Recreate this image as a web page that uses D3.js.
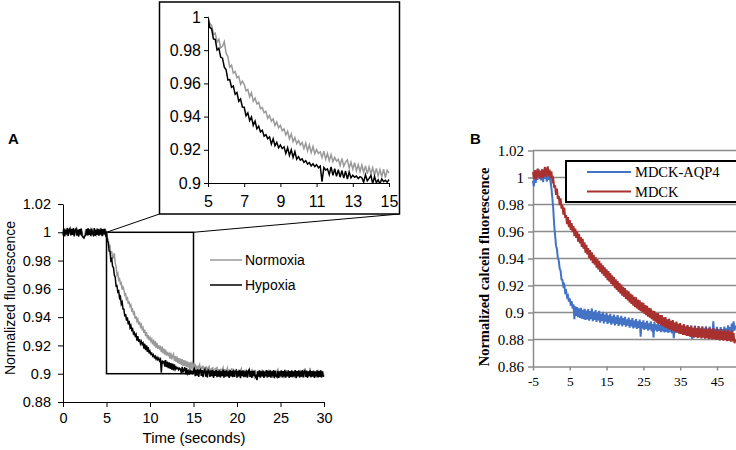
<!DOCTYPE html>
<html>
<head>
<meta charset="utf-8">
<script src="https://cdn.jsdelivr.net/npm/d3@7"></script>
<style>
  body { margin: 0; background: #fff; }
  svg { display: block; }
</style>
</head>
<body>
<svg id="chart"></svg>
<script>
// Panel A: normalized fluorescence, sampled every 0.1 s from 0 to 30 s
const tStepA = 0.1;
const normoxia = [
  1.0021, 0.9978, 1.0030, 0.9985, 1.0012, 0.9972, 1.0026, 0.9991, 1.0018, 0.9976,
  1.0027, 0.9983, 1.0009, 0.9969, 1.0024, 0.9995, 1.0032, 0.9980, 1.0015, 0.9988,
  1.0023, 0.9974, 1.0006, 0.9962, 0.9958, 0.9979, 1.0019, 0.9984, 1.0028, 0.9977,
  1.0017, 0.9981, 1.0033, 0.9986, 1.0011, 0.9970, 1.0025, 0.9993, 0.9979, 1.0029,
  0.9984, 1.0022, 0.9973, 1.0031, 0.9989, 1.0016, 0.9975, 1.0027, 0.9982, 1.0014,
  1.0004, 0.9961, 0.9949, 0.9898, 0.9903, 0.9849, 0.9866, 0.9815, 0.9824, 0.9852,
  0.9782, 0.9761, 0.9698, 0.9710, 0.9662, 0.9671, 0.9634, 0.9642, 0.9595, 0.9613,
  0.9594, 0.9556, 0.9563, 0.9519, 0.9544, 0.9493, 0.9512, 0.9476, 0.9486, 0.9447,
  0.9455, 0.9423, 0.9432, 0.9389, 0.9407, 0.9372, 0.9386, 0.9347, 0.9368, 0.9333,
  0.9347, 0.9314, 0.9326, 0.9289, 0.9312, 0.9266, 0.9295, 0.9249, 0.9273, 0.9237,
  0.9255, 0.9229, 0.9244, 0.9207, 0.9241, 0.9194, 0.9230, 0.9183, 0.9219, 0.9176,
  0.9201, 0.9178, 0.9188, 0.9153, 0.9192, 0.9144, 0.9178, 0.9135, 0.9171, 0.9128,
  0.9154, 0.9131, 0.9143, 0.9106, 0.9148, 0.9101, 0.9126, 0.9139, 0.9090, 0.9125,
  0.9083, 0.9122, 0.9074, 0.9111, 0.9069, 0.9107, 0.9063, 0.9103, 0.9056, 0.9097,
  0.9054, 0.9092, 0.9047, 0.9088, 0.9043, 0.9081, 0.9037, 0.9084, 0.9033, 0.9076,
  0.9060, 0.9028, 0.9069, 0.9021, 0.9058, 0.9016, 0.9052, 0.9065, 0.9012, 0.9047,
  0.9040, 0.9056, 0.9006, 0.9048, 0.9011, 0.9053, 0.9003, 0.9039, 0.9050, 0.8999,
  0.9037, 0.8996, 0.9046, 0.9005, 0.8992, 0.9041, 0.9001, 0.9048, 0.8989, 0.9032,
  0.8995, 0.9036, 0.8984, 0.9029, 0.9043, 0.8990, 0.9032, 0.8982, 0.9025, 0.9040,
  0.8988, 0.9031, 0.8980, 0.9023, 0.9038, 0.8985, 0.9027, 0.9019, 0.8978, 0.9034,
  0.9017, 0.8976, 0.9030, 0.8983, 0.9025, 0.9036, 0.8979, 0.9021, 0.8986, 0.9028,
  0.8974, 0.9023, 0.9015, 0.8981, 0.9032, 0.8977, 0.9019, 0.9026, 0.8972, 0.9022,
  0.8984, 0.9028, 0.8975, 0.9017, 0.8980, 0.9024, 0.8969, 0.9020, 0.8986, 0.9029,
  0.8978, 0.9018, 0.8981, 0.9025, 0.8973, 0.9014, 0.9022, 0.8976, 0.9027, 0.8983,
  0.9021, 0.8970, 0.9016, 0.8982, 0.9024, 0.8975, 0.9019, 0.9030, 0.8979, 0.9013,
  0.8974, 0.9023, 0.8983, 0.9017, 0.8968, 0.9022, 0.8980, 0.9026, 0.8977, 0.9015,
  0.8982, 0.9021, 0.8973, 0.9025, 0.8985, 0.9016, 0.8971, 0.9023, 0.8981, 0.9020,
  0.8976, 0.9018, 0.8984, 0.9027, 0.8975, 0.9014, 0.9022, 0.8972, 0.9038, 0.8983,
  0.9016, 0.8977, 0.9021, 0.8982, 0.9042, 0.8974, 0.9017, 0.8985, 0.9024, 0.8979,
  0.9019, 0.8973, 0.9014, 0.9022, 0.8980, 0.9017, 0.8975, 0.9023, 0.8984, 0.9016,
  0.8982
];
const hypoxia = [
  0.9978, 1.0024, 0.9970, 1.0019, 0.9985, 1.0031, 0.9975, 1.0016, 1.0027, 0.9979,
  1.0022, 0.9982, 1.0029, 0.9972, 1.0015, 1.0025, 0.9977, 1.0019, 0.9969, 1.0023,
  0.9984, 1.0027, 0.9974, 0.9966, 0.9960, 0.9973, 0.9980, 1.0022, 0.9978, 1.0028,
  0.9982, 1.0021, 0.9973, 1.0026, 0.9988, 0.9979, 1.0030, 0.9974, 1.0018, 0.9981,
  1.0024, 0.9977, 1.0019, 0.9983, 1.0027, 0.9972, 1.0022, 0.9985, 1.0025, 0.9980,
  0.9994, 0.9937, 0.9929, 0.9868, 0.9865, 0.9801, 0.9812, 0.9758, 0.9752, 0.9698,
  0.9682, 0.9620, 0.9623, 0.9577, 0.9584, 0.9534, 0.9545, 0.9492, 0.9506, 0.9457,
  0.9456, 0.9405, 0.9422, 0.9376, 0.9398, 0.9348, 0.9373, 0.9327, 0.9342, 0.9308,
  0.9317, 0.9282, 0.9291, 0.9267, 0.9278, 0.9234, 0.9266, 0.9225, 0.9245, 0.9212,
  0.9229, 0.9208, 0.9218, 0.9178, 0.9212, 0.9166, 0.9200, 0.9154, 0.9189, 0.9143,
  0.9159, 0.9138, 0.9145, 0.9125, 0.9134, 0.9114, 0.9123, 0.9103, 0.9116, 0.9099,
  0.9110, 0.9091, 0.9102, 0.9008, 0.9093, 0.9078, 0.9085, 0.9050, 0.9097, 0.9046,
  0.9086, 0.9040, 0.9080, 0.9035, 0.9075, 0.9029, 0.9072, 0.9024, 0.9066, 0.9031,
  0.9047, 0.9035, 0.9042, 0.9027, 0.9038, 0.9032, 0.9005, 0.9049, 0.9013, 0.9028,
  0.9045, 0.8996, 0.9040, 0.9002, 0.9019, 0.8994, 0.9025, 0.9008, 0.9017, 0.9004,
  0.9021, 0.9034, 0.8982, 0.9027, 0.8987, 0.9031, 0.8978, 0.9023, 0.9029, 0.8984,
  0.9026, 0.8975, 0.9020, 0.9030, 0.8980, 0.9022, 0.8973, 0.9025, 0.9017, 0.8977,
  0.9023, 0.8982, 0.9028, 0.8971, 0.9019, 0.8984, 0.9026, 0.8976, 0.9021, 0.8980,
  0.9024, 0.8974, 0.9017, 0.8983, 0.9029, 0.8972, 0.9020, 0.8979, 0.9023, 0.8981,
  0.9016, 0.8970, 0.9025, 0.8982, 0.9019, 0.8975, 0.9027, 0.8978, 0.9014, 0.9022,
  0.8973, 0.9018, 0.8981, 0.9026, 0.8969, 0.9020, 0.8984, 0.9024, 0.8976, 0.9017,
  0.8980, 0.9023, 0.8972, 0.9015, 0.9028, 0.8978, 0.9019, 0.8971, 0.9022, 0.8983,
  0.9020, 0.8975, 0.8985, 0.8955, 0.9017, 0.8979, 0.9024, 0.8973, 0.9016, 0.8981,
  0.9022, 0.8970, 0.9015, 0.8982, 0.9026, 0.8974, 0.9018, 0.8979, 0.9023, 0.8972,
  0.9017, 0.8981, 0.9025, 0.8968, 0.9020, 0.8984, 0.8976, 0.9021, 0.8971, 0.9016,
  0.8982, 0.9024, 0.8974, 0.9018, 0.8979, 0.9027, 0.8972, 0.9015, 0.8983, 0.9023,
  0.8970, 0.9019, 0.8978, 0.9022, 0.8975, 0.9016, 0.8981, 0.9026, 0.8969, 0.9018,
  0.8983, 0.9023, 0.8973, 0.9017, 0.8980, 0.9025, 0.8974, 0.9014, 0.9020, 0.8977,
  0.9022, 0.8971, 0.9016, 0.8982, 0.9024, 0.8975, 0.9019, 0.8979, 0.9021, 0.8970,
  0.9015, 0.8981, 0.9023, 0.8973, 0.9018, 0.8978, 0.9024, 0.8974, 0.9017, 0.8982,
  0.8986
];
const seriesA = ["Normoxia", "Hypoxia"];
const yTicksA = [0.88, 0.9, 0.92, 0.94, 0.96, 0.98, 1, 1.02];
const xTicksA = [0, 5, 10, 15, 20, 25, 30];
const yTicksInset = [0.9, 0.92, 0.94, 0.96, 0.98, 1];
const xTicksInset = [5, 7, 9, 11, 13, 15];

// Panel B: normalized calcein fluorescence, sampled every 0.25 s from -5 to 50
const tStartB = -5, tStepB = 0.25;
const mdckAqp4 = [
  0.9975, 0.9935, 1.0025, 0.9960, 1.0048, 0.9982, 1.0062, 0.9995, 1.0050, 0.9978,
  1.0035, 0.9965, 1.0045, 0.9990, 1.0040, 0.9970, 1.0030, 0.9982, 1.0022, 0.9968,
  0.9925, 0.9850, 0.9770, 0.9650, 0.9575, 0.9495, 0.9470, 0.9405, 0.9385, 0.9325,
  0.9310, 0.9245, 0.9240, 0.9195, 0.9205, 0.9150, 0.9160, 0.9115, 0.9125, 0.9080,
  0.9105, 0.9050, 0.9085, 0.9030, 0.9060, 0.8950, 0.9045, 0.8975, 0.9040, 0.8965,
  0.9030, 0.8960, 0.9035, 0.8955, 0.9020, 0.8950, 0.9028, 0.8945, 0.9015, 0.8948,
  0.9025, 0.8940, 0.9010, 0.8950, 0.9030, 0.8935, 0.9005, 0.8945, 0.9018, 0.8930,
  0.8998, 0.8942, 0.9012, 0.8925, 0.8990, 0.8938, 0.9005, 0.8920, 0.8985, 0.8932,
  0.8995, 0.8915, 0.8978, 0.8925, 0.8990, 0.8910, 0.8972, 0.8920, 0.8985, 0.8905,
  0.8968, 0.8915, 0.8980, 0.8900, 0.8962, 0.8912, 0.8975, 0.8898, 0.8958, 0.8908,
  0.8968, 0.8895, 0.8950, 0.8902, 0.8962, 0.8888, 0.8945, 0.8897, 0.8958, 0.8882,
  0.8940, 0.8890, 0.8952, 0.8878, 0.8935, 0.8886, 0.8948, 0.8820, 0.8930, 0.8880,
  0.8942, 0.8872, 0.8925, 0.8878, 0.8938, 0.8865, 0.8920, 0.8874, 0.8935, 0.8860,
  0.8915, 0.8815, 0.8930, 0.8868, 0.8912, 0.8858, 0.8926, 0.8864, 0.8908, 0.8855,
  0.8922, 0.8860, 0.8905, 0.8852, 0.8918, 0.8857, 0.8900, 0.8850, 0.8915, 0.8855,
  0.8898, 0.8845, 0.8912, 0.8810, 0.8895, 0.8850, 0.8910, 0.8852, 0.8893, 0.8846,
  0.8908, 0.8848, 0.8892, 0.8843, 0.8906, 0.8850, 0.8890, 0.8840, 0.8905, 0.8846,
  0.8888, 0.8838, 0.8903, 0.8805, 0.8887, 0.8844, 0.8902, 0.8840, 0.8885, 0.8836,
  0.8900, 0.8842, 0.8884, 0.8835, 0.8898, 0.8840, 0.8882, 0.8833, 0.8897, 0.8838,
  0.8880, 0.8830, 0.8895, 0.8836, 0.8879, 0.8828, 0.8935, 0.8834, 0.8878, 0.8826,
  0.8893, 0.8832, 0.8877, 0.8824, 0.8892, 0.8830, 0.8876, 0.8822, 0.8895, 0.8835,
  0.8882, 0.8830, 0.8905, 0.8842, 0.8892, 0.8838, 0.8918, 0.8852, 0.8935, 0.8866,
  0.8905
];
const mdck = [
  1.0040, 0.9992, 1.0055, 0.9985, 1.0035, 1.0065, 1.0002, 1.0050, 0.9988, 1.0038,
  1.0060, 0.9998, 1.0045, 1.0078, 1.0005, 1.0052, 1.0082, 1.0010, 1.0058, 0.9995,
  1.0045, 0.9975, 0.9990, 0.9925, 0.9942, 0.9872, 0.9918, 0.9842, 0.9864, 0.9795,
  0.9845, 0.9770, 0.9795, 0.9725, 0.9778, 0.9700, 0.9722, 0.9655, 0.9706, 0.9632,
  0.9685, 0.9612, 0.9662, 0.9595, 0.9640, 0.9566, 0.9622, 0.9552, 0.9602, 0.9525,
  0.9582, 0.9512, 0.9558, 0.9486, 0.9545, 0.9472, 0.9520, 0.9443, 0.9502, 0.9430,
  0.9478, 0.9402, 0.9462, 0.9386, 0.9445, 0.9365, 0.9428, 0.9355, 0.9410, 0.9333,
  0.9395, 0.9320, 0.9382, 0.9301, 0.9364, 0.9288, 0.9350, 0.9272, 0.9335, 0.9258,
  0.9320, 0.9240, 0.9306, 0.9228, 0.9292, 0.9212, 0.9275, 0.9198, 0.9262, 0.9180,
  0.9245, 0.9167, 0.9232, 0.9152, 0.9218, 0.9140, 0.9207, 0.9125, 0.9190, 0.9115,
  0.9181, 0.9100, 0.9165, 0.9090, 0.9156, 0.9075, 0.9140, 0.9064, 0.9131, 0.9050,
  0.9116, 0.9040, 0.9112, 0.9031, 0.9095, 0.9019, 0.9091, 0.9010, 0.9075, 0.9000,
  0.9072, 0.8991, 0.9055, 0.8980, 0.9050, 0.8970, 0.9035, 0.8961, 0.9031, 0.8951,
  0.9015, 0.8940, 0.9011, 0.8932, 0.8996, 0.8923, 0.8996, 0.8915, 0.8980, 0.8907,
  0.8981, 0.8901, 0.8964, 0.8892, 0.8966, 0.8886, 0.8949, 0.8877, 0.8954, 0.8874,
  0.8938, 0.8866, 0.8943, 0.8863, 0.8926, 0.8855, 0.8932, 0.8852, 0.8916, 0.8844,
  0.8921, 0.8842, 0.8904, 0.8834, 0.8914, 0.8834, 0.8897, 0.8827, 0.8907, 0.8827,
  0.8891, 0.8820, 0.8901, 0.8822, 0.8884, 0.8814, 0.8898, 0.8818, 0.8882, 0.8811,
  0.8895, 0.8815, 0.8879, 0.8808, 0.8893, 0.8813, 0.8876, 0.8806, 0.8890, 0.8810,
  0.8874, 0.8803, 0.8887, 0.8807, 0.8871, 0.8800, 0.8884, 0.8804, 0.8868, 0.8797,
  0.8881, 0.8801, 0.8865, 0.8794, 0.8878, 0.8798, 0.8862, 0.8791, 0.8875, 0.8795,
  0.8859, 0.8788, 0.8871, 0.8791, 0.8855, 0.8784, 0.8866, 0.8786, 0.8850, 0.8772,
  0.8800
];
const seriesB = ["MDCK-AQP4", "MDCK"];
const yTicksB = [0.86, 0.88, 0.9, 0.92, 0.94, 0.96, 0.98, 1, 1.02];
const xTicksB = [-5, 5, 15, 25, 35, 45];

const width = 736, height = 450;
const sans = "Liberation Sans, Arial, sans-serif";
const serif = "Liberation Serif, Times New Roman, serif";

const svg = d3.select("#chart").attr("width", width).attr("height", height);

const ptsA = vals => vals.map((v, i) => ({ t: i * tStepA, v }));
const ptsB = vals => vals.map((v, i) => ({ t: tStartB + i * tStepB, v }));

// ---------- Panel A main ----------
const xA = d3.scaleLinear().domain([0, 30]).range([63, 324]);
const yA = d3.scaleLinear().domain([0.88, 1.02]).range([402, 204]);

const axA = svg.append("g").attr("font-family", sans);

// zoom box
axA.append("rect")
  .attr("x", xA(5)).attr("y", yA(1))
  .attr("width", xA(15) - xA(5)).attr("height", yA(0.9) - yA(1))
  .attr("fill", "none").attr("stroke", "#000").attr("stroke-width", 1.5);

const lineA = d3.line().x(d => xA(d.t)).y(d => yA(d.v));
axA.append("path").datum(ptsA(normoxia))
  .attr("d", lineA).attr("fill", "none").attr("stroke", "#999").attr("stroke-width", 1.5);
axA.append("path").datum(ptsA(hypoxia))
  .attr("d", lineA).attr("fill", "none").attr("stroke", "#000").attr("stroke-width", 1.5);

const gyA = axA.append("g").attr("transform", "translate(63,0)")
  .call(d3.axisLeft(yA).tickValues(yTicksA).tickFormat(d3.format("")).tickSize(5).tickSizeOuter(0).tickPadding(7));
const gxA = axA.append("g").attr("transform", "translate(0,402)")
  .call(d3.axisBottom(xA).tickValues(xTicksA).tickSize(5).tickSizeOuter(0).tickPadding(6));
[gyA, gxA].forEach(g => {
  g.selectAll("text").attr("font-size", 14.5).attr("font-family", sans).attr("fill", "#000");
  g.select(".domain").attr("stroke", "#000");
});

axA.append("text")
  .attr("transform", "translate(15,298) rotate(-90)")
  .attr("text-anchor", "middle").attr("font-size", 14).text("Normalized fluorescence");
axA.append("text")
  .attr("x", 194).attr("y", 443).attr("text-anchor", "middle")
  .attr("font-size", 15).text("Time (seconds)");
axA.append("text").attr("x", 8).attr("y", 144)
  .attr("font-size", 15).attr("font-weight", "bold").text("A");

// legend A
const legA = axA.append("g");
seriesA.forEach((name, i) => {
  const y = 260 + i * 25;
  legA.append("line").attr("x1", 210).attr("x2", 242).attr("y1", y).attr("y2", y)
    .attr("stroke", i === 0 ? "#999" : "#000").attr("stroke-width", 1.5);
  legA.append("text").attr("x", 245).attr("y", y + 5).attr("font-size", 14).text(name);
});

// ---------- Panel A inset ----------
const insetBox = { x: 159.5, y: 2, w: 240, h: 212 };
axA.append("line")
  .attr("x1", xA(5)).attr("y1", yA(1)).attr("x2", insetBox.x).attr("y2", insetBox.y + insetBox.h)
  .attr("stroke", "#000").attr("stroke-width", 1);
axA.append("line")
  .attr("x1", xA(15)).attr("y1", yA(1)).attr("x2", insetBox.x + insetBox.w).attr("y2", insetBox.y + insetBox.h)
  .attr("stroke", "#000").attr("stroke-width", 1);
axA.append("rect")
  .attr("x", insetBox.x).attr("y", insetBox.y).attr("width", insetBox.w).attr("height", insetBox.h)
  .attr("fill", "#fff").attr("stroke", "#000").attr("stroke-width", 1.5);

const xI = d3.scaleLinear().domain([5, 15]).range([208, 389]);
const yI = d3.scaleLinear().domain([0.9, 1]).range([183, 17]);
svg.append("clipPath").attr("id", "clipI").append("rect")
  .attr("x", 208).attr("y", 10).attr("width", 182).attr("height", 174);
const lineI = d3.line().x(d => xI(d.t)).y(d => yI(d.v));
const inI = d => d.t >= 5 - 1e-9 && d.t <= 15 + 1e-9;
const gI = axA.append("g").attr("clip-path", "url(#clipI)");
gI.append("path").datum(ptsA(normoxia).filter(inI))
  .attr("d", lineI).attr("fill", "none").attr("stroke", "#999").attr("stroke-width", 1.5);
gI.append("path").datum(ptsA(hypoxia).filter(inI))
  .attr("d", lineI).attr("fill", "none").attr("stroke", "#000").attr("stroke-width", 1.5);

const gyI = axA.append("g").attr("transform", "translate(208,0)")
  .call(d3.axisLeft(yI).tickValues(yTicksInset).tickFormat(d3.format("")).tickSize(4).tickSizeOuter(0).tickPadding(3));
const gxI = axA.append("g").attr("transform", "translate(0,183)")
  .call(d3.axisBottom(xI).tickValues(xTicksInset).tickSize(4).tickSizeOuter(0).tickPadding(9));
[gyI, gxI].forEach(g => {
  g.selectAll("text").attr("font-size", 16).attr("font-family", sans).attr("fill", "#000");
  g.select(".domain").attr("stroke", "#000");
});

// ---------- Panel B ----------
const xB = d3.scaleLinear().domain([-5, 55]).range([533, 753.8]);
const yB = d3.scaleLinear().domain([0.86, 1.02]).range([366.5, 150.5]);
const gB = svg.append("g").attr("font-family", serif);
const gridGray = "#8c8c8c";

gB.append("g").selectAll("line").data(yTicksB.slice(1)).join("line")
  .attr("x1", 533).attr("x2", width).attr("y1", d => yB(d)).attr("y2", d => yB(d))
  .attr("stroke", gridGray).attr("stroke-width", 1.5);

const gyB = gB.append("g").attr("transform", "translate(533,0)")
  .call(d3.axisLeft(yB).tickValues(yTicksB).tickFormat(d3.format("")).tickSize(5).tickSizeOuter(0).tickPadding(4));
const gxB = gB.append("g").attr("transform", "translate(0,366.5)")
  .call(d3.axisBottom(xB).tickValues(xTicksB).tickFormat(d => (d < 0 ? "-" + (-d) : String(d)))
    .tickSize(4).tickSizeOuter(0).tickPadding(6));
[gyB, gxB].forEach(g => {
  g.select(".domain").attr("stroke", gridGray).attr("stroke-width", 1.5);
  g.selectAll(".tick line").attr("stroke", gridGray).attr("stroke-width", 1.5);
  g.selectAll("text").attr("font-family", serif).attr("fill", "#000");
});
gyB.selectAll("text").attr("font-size", 15);
gxB.selectAll("text").attr("font-size", 13.5);

const lineB = d3.line().x(d => xB(d.t)).y(d => yB(d.v));
const colorsB = ["#4472c4", "#a8302f"];
[mdckAqp4, mdck].forEach((vals, i) => {
  gB.append("path").datum(ptsB(vals))
    .attr("d", lineB).attr("fill", "none").attr("stroke", colorsB[i]).attr("stroke-width", 2);
});

gB.append("text")
  .attr("transform", "translate(489,267) rotate(-90)")
  .attr("text-anchor", "middle").attr("font-size", 14.5).attr("font-weight", "bold")
  .text("Normalized calcein fluorescence");
gB.append("text").attr("x", 470).attr("y", 144).attr("font-family", sans)
  .attr("font-size", 15).attr("font-weight", "bold").text("B");

// legend B
gB.append("rect").attr("x", 566).attr("y", 161).attr("width", 200).attr("height", 41)
  .attr("fill", "#fff").attr("stroke", "#000").attr("stroke-width", 2);
seriesB.forEach((name, i) => {
  const y = 172 + i * 19.5;
  gB.append("line").attr("x1", 587).attr("x2", 631).attr("y1", y).attr("y2", y)
    .attr("stroke", colorsB[i]).attr("stroke-width", 2);
  gB.append("text").attr("x", 635).attr("y", y + 5).attr("font-size", 14.5).text(name);
});
</script>
</body>
</html>
